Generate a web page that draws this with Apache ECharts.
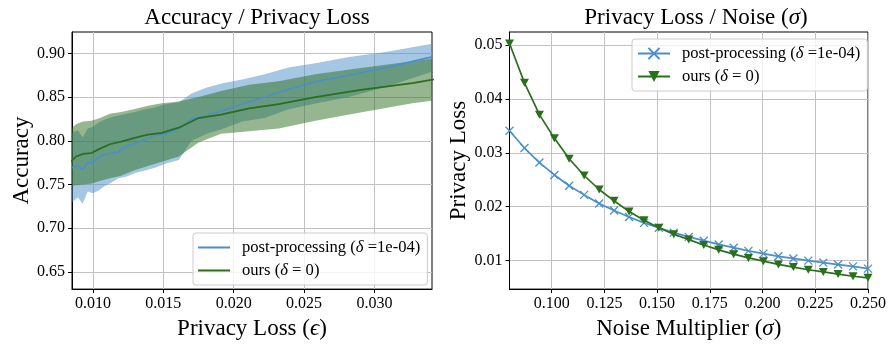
<!DOCTYPE html>
<html>
<head>
<meta charset="utf-8">
<script src="https://cdn.jsdelivr.net/npm/echarts@6/dist/echarts.min.js"></script>
<style>
html,body{margin:0;padding:0;background:#fff;}
#chart{width:889px;height:345px;}
</style>
</head>
<body>
<div id="chart"></div>
<script>
// Noise multipliers of the sweep (25 runs)
const sigma = [0.0800, 0.0871, 0.0942, 0.1013, 0.1083, 0.1154, 0.1225, 0.1296, 0.1367,
  0.1438, 0.1508, 0.1579, 0.1650, 0.1721, 0.1792, 0.1863, 0.1933, 0.2004, 0.2075,
  0.2146, 0.2217, 0.2288, 0.2358, 0.2429, 0.2500];

// Privacy loss reached at each noise multiplier
const ppLoss = [0.0341, 0.0309, 0.0282, 0.0259, 0.0239, 0.0222, 0.0206, 0.0193, 0.0181,
  0.0170, 0.0161, 0.0152, 0.0144, 0.0137, 0.0130, 0.0124, 0.0118, 0.0113, 0.0108,
  0.0104, 0.0100, 0.00963, 0.00927, 0.00893, 0.00851];
const oursLoss = [0.0503, 0.0430, 0.0371, 0.0327, 0.0289, 0.0258, 0.0232, 0.0211, 0.0191,
  0.0175, 0.0161, 0.0149, 0.0139, 0.0129, 0.0120, 0.0112, 0.0105, 0.0099, 0.0093,
  0.0088, 0.0083, 0.0079, 0.0075, 0.0071, 0.0068];

// Accuracy (mean and spread over repetitions) at each noise multiplier
const ppAcc = [0.896, 0.884, 0.875, 0.868, 0.859, 0.850, 0.842, 0.835, 0.829, 0.825,
  0.814, 0.808, 0.806, 0.801, 0.797, 0.794, 0.787, 0.786, 0.784, 0.781,
  0.775, 0.775, 0.767, 0.772, 0.769];
const ppAccHigh = [0.911, 0.902, 0.896, 0.889, 0.884, 0.876, 0.870, 0.866, 0.861, 0.854,
  0.844, 0.842, 0.838, 0.836, 0.833, 0.831, 0.829, 0.827, 0.824, 0.821,
  0.816, 0.814, 0.804, 0.812, 0.809];
const ppAccLow = [0.879, 0.862, 0.850, 0.843, 0.836, 0.826, 0.822, 0.814, 0.808, 0.800,
  0.778, 0.774, 0.769, 0.766, 0.763, 0.759, 0.757, 0.752, 0.748, 0.743,
  0.740, 0.742, 0.728, 0.735, 0.730];

// "ours" runs outside the plotted privacy-loss window are left empty
const oursAcc = [null, null, 0.878, 0.866, 0.858, 0.850, 0.842, 0.837, 0.830, 0.826,
  0.815, 0.809, 0.807, 0.803, 0.799, 0.796, 0.791, 0.786, 0.785, 0.782,
  0.774, null, null, null, null];
const oursAccHigh = [null, null, 0.900, 0.891, 0.883, 0.876, 0.868, 0.864, 0.857, 0.850,
  0.845, 0.843, 0.840, 0.836, 0.833, 0.831, 0.826, 0.823, 0.822, 0.819,
  0.812, null, null, null, null];
const oursAccLow = [null, null, 0.852, 0.843, 0.832, 0.823, 0.814, 0.811, 0.808, 0.798,
  0.782, 0.776, 0.771, 0.766, 0.760, 0.757, 0.754, 0.751, 0.750, 0.749,
  0.748, null, null, null, null];

// Tick positions
const epsTicks = [0.010, 0.015, 0.020, 0.025, 0.030];
const accTicks = [0.65, 0.70, 0.75, 0.80, 0.85, 0.90];
const sigmaTicks = [0.100, 0.125, 0.150, 0.175, 0.200, 0.225, 0.250];
const lossTicks = [0.01, 0.02, 0.03, 0.04, 0.05];

const SERIF = "'Liberation Serif', 'DejaVu Serif', serif";
const PP_COLOR = '#4b8fc8';
const OURS_COLOR = '#2b6e1d';
const GRID_COLOR = '#c2c2c2';
const LINE_ICON = 'path://M0,0H32V2H0Z';

const legendText = {
  postAcc: 'post-processing ({i|δ} =1e-04)',
  oursAcc: 'ours ({i|δ} = 0)',
  postLoss: 'post-processing ({i|δ} =1e-04)',
  oursLoss: 'ours ({i|δ} = 0)'
};

const italic = { fontStyle: 'italic', fontFamily: SERIF };

function valueAxis(idx, min, max, step, ticks, digits, extra) {
  return Object.assign({
    type: 'value', gridIndex: idx, min: min, max: max,
    minInterval: step, maxInterval: step,
    axisLine: { show: true, onZero: false, lineStyle: { color: '#000', width: 1 } },
    axisTick: { show: true, length: 4, customValues: ticks, lineStyle: { color: '#000', width: 1 } },
    axisLabel: {
      customValues: ticks, color: '#000', fontFamily: SERIF, fontSize: 16, margin: 7,
      formatter: v => Number(v).toFixed(digits)
    },
    splitLine: { show: true, lineStyle: { color: GRID_COLOR, width: 1 } },
    nameLocation: 'middle',
    nameTextStyle: { color: '#000', fontFamily: SERIF, fontSize: 23, rich: { i: Object.assign({ fontSize: 23 }, italic) } }
  }, extra);
}

function pairs(xs, ys) {
  const out = [];
  xs.forEach((x, i) => { if (ys[i] != null) out.push([x, ys[i]]); });
  return out;
}

// Shaded spread between the low and high accuracy values
function band(xs, lo, hi, color, name) {
  const data = [];
  xs.forEach((x, i) => { if (lo[i] != null && hi[i] != null) data.push([x, lo[i], hi[i]]); });
  return {
    type: 'custom', id: name, xAxisIndex: 0, yAxisIndex: 0, silent: true, z: 1,
    data: data,
    encode: { x: 0, y: [1, 2] },
    renderItem(params, api) {
      if (params.dataIndexInside !== 0) return null;
      const top = [], bottom = [];
      for (let i = 0; i < params.dataInsideLength; i++) {
        const x = api.value(0, i);
        top.push(api.coord([x, api.value(2, i)]));
        bottom.push(api.coord([x, api.value(1, i)]));
      }
      const cs = params.coordSys;
      return {
        type: 'polygon',
        shape: { points: top.concat(bottom.reverse()) },
        style: { fill: color, opacity: 0.5 },
        clipPath: { type: 'rect', shape: { x: cs.x, y: cs.y, width: cs.width, height: cs.height } }
      };
    }
  };
}

const legendBase = {
  orient: 'vertical', itemWidth: 32, itemHeight: 14, itemGap: 6,
  padding: [6, 7, 6, 5],
  backgroundColor: 'rgba(255,255,255,0.8)', borderColor: '#cccccc', borderWidth: 1, borderRadius: 3,
  textStyle: { color: '#000', fontFamily: SERIF, fontSize: 16.6, padding: [0, 0, 0, 7], rich: { i: Object.assign({ fontSize: 16.6 }, italic) } },
  formatter: name => legendText[name],
  selectedMode: false
};

const option = {
  animation: false,
  backgroundColor: '#fff',
  title: [
    { text: 'Accuracy / Privacy Loss', left: 252, top: 1, textAlign: 'center',
      textStyle: { color: '#000', fontFamily: SERIF, fontSize: 23, fontWeight: 'normal' } },
    { text: 'Privacy Loss / Noise ({i|σ})', left: 691, top: 1, textAlign: 'center',
      textStyle: { color: '#000', fontFamily: SERIF, fontSize: 23, fontWeight: 'normal',
        rich: { i: Object.assign({ fontSize: 23 }, italic) } } }
  ],
  grid: [
    { left: 72, top: 32, width: 360, height: 259.5, show: true, borderColor: '#000', borderWidth: 1, containLabel: false },
    { left: 509.5, top: 32, width: 362.5, height: 259.5, show: true, borderColor: '#000', borderWidth: 1, containLabel: false }
  ],
  xAxis: [
    valueAxis(0, 0.00851, 0.03409, 0.005, epsTicks, 3, { name: 'Privacy Loss ({i|ϵ})', nameGap: 24 }),
    valueAxis(1, 0.08, 0.25, 0.025, sigmaTicks, 3, { name: 'Noise Multiplier ({i|σ})', nameGap: 24 })
  ],
  yAxis: [
    valueAxis(0, 0.6302, 0.9245, 0.05, accTicks, 2, { name: 'Accuracy', nameGap: 39 }),
    valueAxis(1, 0.00471, 0.05244, 0.01, lossTicks, 2, { name: 'Privacy Loss', nameGap: 37 })
  ],
  legend: [
    Object.assign({}, legendBase, { left: 193, top: 233,
      data: [{ name: 'postAcc', icon: LINE_ICON }, { name: 'oursAcc', icon: LINE_ICON }] }),
    Object.assign({}, legendBase, { left: 632, top: 39, data: ['postLoss', 'oursLoss'] })
  ],
  series: [
    band(ppLoss, ppAccLow, ppAccHigh, PP_COLOR, 'postBand'),
    band(oursLoss, oursAccLow, oursAccHigh, OURS_COLOR, 'oursBand'),
    { name: 'postAcc', type: 'line', xAxisIndex: 0, yAxisIndex: 0, z: 3, symbol: 'none',
      data: pairs(ppLoss, ppAcc), lineStyle: { color: PP_COLOR, width: 1.6 }, itemStyle: { color: PP_COLOR } },
    { name: 'oursAcc', type: 'line', xAxisIndex: 0, yAxisIndex: 0, z: 4, symbol: 'none',
      data: pairs(oursLoss, oursAcc), lineStyle: { color: OURS_COLOR, width: 1.7 }, itemStyle: { color: OURS_COLOR } },
    { name: 'postLoss', type: 'line', xAxisIndex: 1, yAxisIndex: 1, z: 3,
      symbol: 'path://M0,0L10,10M0,10L10,0', symbolSize: 8,
      data: pairs(sigma, ppLoss),
      lineStyle: { color: PP_COLOR, width: 1.7 },
      itemStyle: { color: PP_COLOR, borderColor: PP_COLOR, borderWidth: 1.3 } },
    { name: 'oursLoss', type: 'line', xAxisIndex: 1, yAxisIndex: 1, z: 4,
      symbol: 'triangle', symbolRotate: 180, symbolSize: [9, 8],
      data: pairs(sigma, oursLoss),
      lineStyle: { color: OURS_COLOR, width: 1.7 },
      itemStyle: { color: OURS_COLOR } }
  ]
};

const chart = echarts.init(document.getElementById('chart'), null, { renderer: 'canvas' });
chart.setOption(option);
</script>
</body>
</html>
